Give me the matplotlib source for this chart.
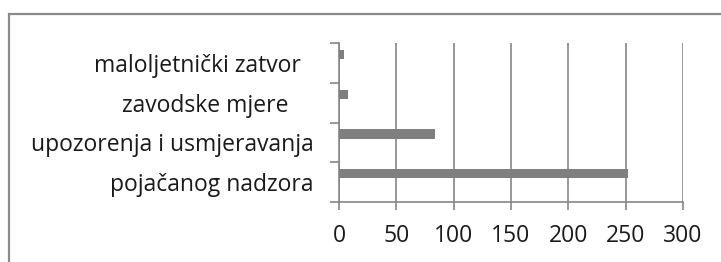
import numpy as np
import matplotlib.pyplot as plt
from matplotlib.patches import Rectangle
from matplotlib.transforms import ScaledTranslation

# data (bottom to top, as drawn)
categories = ['pojačanog nadzora', 'upozorenja i usmjeravanja', 'zavodske mjere', 'maloljetnički zatvor']
values = [252, 84, 8, 4]
x_ticks = [0, 50, 100, 150, 200, 250, 300]

plt.rcParams['font.family'] = ['Open Sans', 'DejaVu Sans']

fig = plt.figure(figsize=(7.21, 2.62), dpi=100)
ax = fig.add_axes([339 / 721, 60 / 262, 344 / 721, 159 / 262])

grey = '#868686'
bar_grey = '#7f7f7f'

y = np.arange(len(categories))
# bars sit above the middle of each band (empty second series in the original)
ax.barh(y + 0.21, values, height=0.23, color=bar_grey, zorder=3)

ax.set_xlim(0, 300)
ax.set_ylim(-0.5, len(categories) - 0.5)
ax.set_xticks(x_ticks)
ax.set_xticklabels([str(v) for v in x_ticks])
ax.grid(axis='x', color=grey, linewidth=1.2, zorder=0)

# category ticks at band boundaries, labels at band centres
ax.set_yticks(np.arange(-0.5, len(categories)), minor=True)
ax.set_yticks(y)
ax.set_yticklabels(categories)
ax.tick_params(axis='y', which='major', length=0, pad=18, labelsize=16.5, labelcolor='#1a1a1a')
ax.tick_params(axis='y', which='minor', length=6.5, width=1.2, color=grey)
ax.tick_params(axis='x', length=6, width=1.2, color=grey, pad=10, labelsize=16.5, labelcolor='#1a1a1a')

# small nudges so labels line up like the original
nudges = [0, 0, -26, -13]
for lab, dx in zip(ax.get_yticklabels(), nudges):
    lab.set_transform(lab.get_transform() + ScaledTranslation(dx / 100, 0, fig.dpi_scale_trans))

for s in ['top', 'right']:
    ax.spines[s].set_visible(False)
for s in ['left', 'bottom']:
    ax.spines[s].set_color(grey)
    ax.spines[s].set_linewidth(1.2)

# outer chart frame (cut off on the right and bottom)
fig.patches.append(Rectangle((9 / 721, -0.1), 1.1, 248 / 262 + 0.1, transform=fig.transFigure,
                             fill=False, edgecolor='#8a8a8a', linewidth=1.6))

fig.savefig('out.png', dpi=100)
